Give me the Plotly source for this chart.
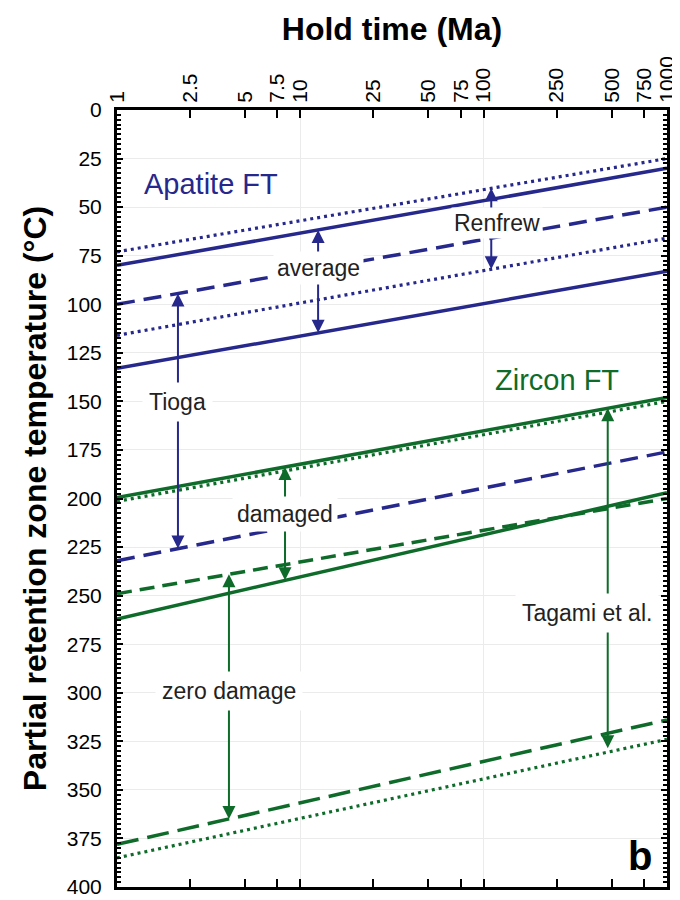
import numpy as np
import plotly.graph_objects as go

# ---- data ----
hold_time_ends = [1, 1000]  # Ma (line end points)
x_tick_vals = [1, 2.5, 5, 7.5, 10, 25, 50, 75, 100, 250, 500, 750, 1000]
x_tick_text = ["1", "2.5", "5", "7.5", "10", "25", "50", "75", "100", "250", "500", "750", "1000"]

apatite_dot_upper = [73, 25]
apatite_solid_upper = [80, 30]
apatite_dash_renfrew = [100, 50]
apatite_dot_lower = [116, 66]
apatite_solid_lower = [133, 83]
apatite_dash_tioga = [232, 176]

zircon_solid_upper = [199.5, 148]
zircon_dot_upper = [201.5, 150]
zircon_dash_mid = [249, 200]
zircon_solid_lower = [262, 197]
zircon_dash_lower = [378, 314]
zircon_dot_lower = [385, 324]

BLUE = "#26288c"
GREEN = "#0e6b2a"
FONT = "Liberation Sans, Arial, sans-serif"

def at(series, x):
    return float(np.interp(np.log10(x), np.log10(hold_time_ends), series))

fig = go.Figure()

def add_line(y, color, dash, width=3.5):
    fig.add_trace(go.Scatter(x=hold_time_ends, y=y, mode="lines",
                             line=dict(color=color, width=width, dash=dash),
                             showlegend=False, hoverinfo="skip"))

add_line(apatite_dot_upper, BLUE, "3px,4px", 3.2)
add_line(apatite_solid_upper, BLUE, "solid")
add_line(apatite_dash_renfrew, BLUE, "18px,9px")
add_line(apatite_dot_lower, BLUE, "3px,4px", 3.2)
add_line(apatite_solid_lower, BLUE, "solid")
add_line(apatite_dash_tioga, BLUE, "18px,9px")
add_line(zircon_dot_upper, GREEN, "3px,4px", 3.2)
add_line(zircon_solid_upper, GREEN, "solid")
add_line(zircon_dash_mid, GREEN, "15px,8px")
add_line(zircon_solid_lower, GREEN, "solid")
add_line(zircon_dash_lower, GREEN, "22px,9px")
add_line(zircon_dot_lower, GREEN, "3px,4px", 3.2)

annotations = []

def arrow(x, y_from, y_to, color):
    annotations.append(dict(
        x=np.log10(x), y=y_to, ax=np.log10(x), ay=y_from,
        xref="x", yref="y", axref="x", ayref="y",
        text="", showarrow=True, arrowhead=2, arrowsize=1.3,
        arrowwidth=2, arrowcolor=color, standoff=0, startstandoff=0))

def label(x, y, text, color="#222222", size=23, bg="white", bold=False, xanchor="center", pad=4):
    a = dict(
        x=np.log10(x), y=y, xref="x", yref="y", text=("<b>%s</b>" % text) if bold else text,
        showarrow=False, borderpad=pad, xanchor=xanchor, yanchor="middle",
        font=dict(family=FONT, size=size, color=color))
    if bg:
        a["bgcolor"] = bg
    annotations.append(a)

# arrows (tail at label, tip on the bounding line)
ren_x, ren_y = 110, 58
arrow(ren_x, ren_y, at(apatite_dot_upper, ren_x), BLUE)
arrow(ren_x, ren_y, at(apatite_dot_lower, ren_x), BLUE)

avg_x, avg_y = 12.5, 81.5
arrow(avg_x, avg_y, at(apatite_solid_upper, avg_x), BLUE)
arrow(avg_x, avg_y, at(apatite_solid_lower, avg_x), BLUE)

tio_x, tio_y = 2.15, 150.5
arrow(tio_x, tio_y, at(apatite_dash_renfrew, tio_x), BLUE)
arrow(tio_x, tio_y, at(apatite_dash_tioga, tio_x), BLUE)

dam_x, dam_y = 8.25, 208
arrow(dam_x, dam_y, at(zircon_solid_upper, dam_x), GREEN)
arrow(dam_x, dam_y, at(zircon_solid_lower, dam_x), GREEN)

zd_x, zd_y = 4.08, 299
arrow(zd_x, zd_y, at(zircon_dash_mid, zd_x), GREEN)
arrow(zd_x, zd_y, at(zircon_dash_lower, zd_x), GREEN)

tg_x, tg_y = 475, 259
arrow(tg_x, tg_y, at(zircon_solid_upper, tg_x), GREEN)
arrow(tg_x, tg_y, at(zircon_dot_lower, tg_x) - 2, GREEN)

# labels
label(118, ren_y, "Renfrew", pad=2)
label(avg_x, avg_y, "average", pad=3)
label(tio_x, tio_y, "Tioga", pad=6)
label(dam_x, dam_y, "damaged", pad=4)
label(zd_x, zd_y, "zero damage", pad=6)
label(365, tg_y, "Tagami et al.", pad=6)
label(1.38, 38, "Apatite FT", color=BLUE, size=29, bg=None, xanchor="left", pad=0)
label(251, 139, "Zircon FT", color=GREEN, size=29, bg=None, pad=0)
label(713, 384, "b", color="black", size=40, bg=None, bold=True, pad=0)

# the page body adds an 8 px offset, so the figure is sized to fit the 680x900 window
fig.update_layout(
    width=672, height=892,
    margin=dict(l=109, r=13, t=102, b=13),
    paper_bgcolor="white", plot_bgcolor="white",
    font=dict(family=FONT, color="black"),
    annotations=annotations,
    xaxis=dict(
        type="log", range=[0, 3], side="top", automargin=False,
        tickmode="array", tickvals=x_tick_vals, ticktext=x_tick_text,
        tickangle=-90, tickfont=dict(size=21, family=FONT),
        ticks="inside", ticklen=8, tickwidth=2, tickcolor="black",
        showgrid=False, zeroline=False,
        showline=True, linecolor="black", linewidth=3, mirror="allticks",
        minor=dict(tickvals=[10, 100], showgrid=True, gridcolor="#ebebeb", gridwidth=1, ticklen=0),
        title=dict(text="<b>Hold time (Ma)</b>", font=dict(size=32, family=FONT), standoff=6),
    ),
    yaxis=dict(
        range=[400, 0], tickmode="linear", tick0=0, dtick=25, automargin=False,
        tickfont=dict(size=21, family=FONT), ticklabelstandoff=8,
        ticks="inside", ticklen=6, tickwidth=2, tickcolor="black",
        showgrid=True, gridcolor="#ebebeb", gridwidth=1, zeroline=False,
        showline=True, linecolor="black", linewidth=3, mirror="allticks",
        minor=dict(dtick=2.5, ticks="inside", ticklen=4, tickwidth=1.5, tickcolor="black", showgrid=False),
        title=dict(text="<b>Partial retention zone temperature (°C)</b>", font=dict(size=32, family=FONT), standoff=11),
    ),
)

fig.write_html("out.html")
